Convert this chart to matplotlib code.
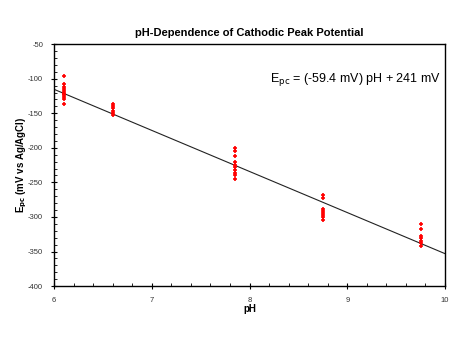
import numpy as np
import matplotlib.pyplot as plt
from matplotlib.ticker import MultipleLocator

plt.rcParams["font.family"] = "Liberation Sans"
plt.rcParams["axes.unicode_minus"] = False

# measured peak potentials (mV vs Ag/AgCl) at each pH
ph_61 = [-96, -108, -112, -115, -118, -120, -122, -124, -126, -130, -136]
ph_66 = [-137, -140, -143, -146, -149, -152]
ph_785 = [-200, -205, -212, -220, -225, -228, -232, -236, -240, -245]
ph_875 = [-268, -272, -288, -291, -294, -297, -300, -305]
ph_975 = [-310, -318, -328, -331, -335, -338, -342]

ph_values = [6.1, 6.6, 7.85, 8.75, 9.75]
groups = [ph_61, ph_66, ph_785, ph_875, ph_975]

slope = -59.4
intercept = 241
fit_x = [6, 10]

fig = plt.figure(figsize=(4.63, 3.37), dpi=100)
ax = fig.add_axes([0.117, 0.151, 0.844, 0.718])

fit_y = [slope * x + intercept for x in fit_x]
ax.plot(fit_x, fit_y, color='#222222', linewidth=0.8, zorder=2)

for ph, vals in zip(ph_values, groups):
    ax.plot([ph] * len(vals), vals, linestyle='none', marker='+',
            color='red', markersize=3.5, markeredgewidth=1.2, zorder=3)

ax.set_xlim(6, 10)
ax.set_ylim(-400, -50)
ax.xaxis.set_major_locator(MultipleLocator(1))
ax.xaxis.set_minor_locator(MultipleLocator(0.2))
ax.yaxis.set_major_locator(MultipleLocator(50))
ax.yaxis.set_minor_locator(MultipleLocator(10))
ax.tick_params(which='major', direction='inout', length=4, width=0.8,
               labelsize=5.5, labelcolor='#333333', pad=6)
ax.tick_params(which='minor', direction='in', length=2, width=0.6)

for s in ax.spines.values():
    s.set_linewidth(1.0)

ax.set_title('pH-Dependence of Cathodic Peak Potential', fontsize=8,
             fontweight='bold', pad=6)
ax.set_xlabel('pH', fontsize=7, fontweight='bold', labelpad=0)
ax.set_ylabel(r'E$_{\mathbf{pc}}$ (mV vs Ag/AgCl)', fontsize=7,
              fontweight='bold', labelpad=-1)

ax.text(0.99, 0.855, r'E$_{\mathrm{pc}}$ = (-59.4 mV) pH + 241 mV',
        transform=ax.transAxes, ha='right', va='center', fontsize=9)

fig.savefig("out.png", dpi=100)
